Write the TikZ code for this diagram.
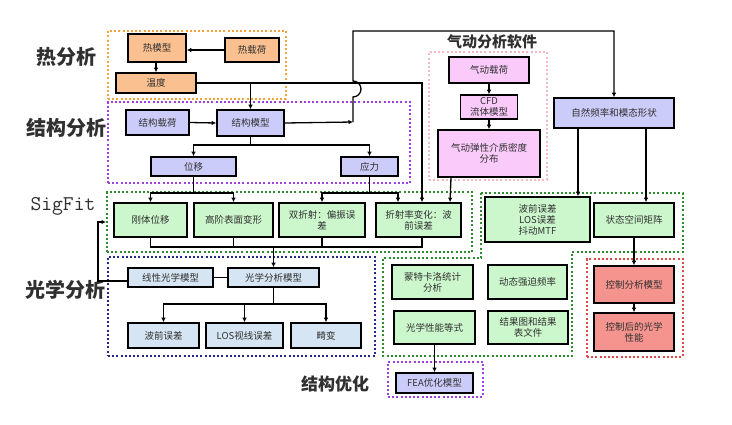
\documentclass[tikz,border=0pt]{standalone}
\usepackage{fontspec}
\setmainfont{Noto Sans CJK SC}
\usetikzlibrary{arrows.meta,calc}
\definecolor{cOrange}{HTML}{FAC08F}
\definecolor{cOrangeD}{HTML}{F2A53A}
\definecolor{cLav}{HTML}{CCCCFA}
\definecolor{cPurpleD}{HTML}{A040DC}
\definecolor{cGreen}{HTML}{CCF7CC}
\definecolor{cGreenD}{HTML}{2E8B2E}
\definecolor{cBlue}{HTML}{D6E5F3}
\definecolor{cNavyD}{HTML}{26268F}
\definecolor{cPink}{HTML}{FACBFA}
\definecolor{cPinkD}{HTML}{F2B8C4}
\definecolor{cRed}{HTML}{F5948E}
\definecolor{cRedD}{HTML}{E04848}
\definecolor{cText}{HTML}{303030}
\begin{document}
\begin{tikzpicture}[x=1pt,y=-1pt,
  box/.style={draw=black, line width=1.6pt, inner sep=1pt, align=center,
    font=\fontsize{9.5}{11}\selectfont, text=cText},
  thbox/.style={box, fill=cOrange},
  stbox/.style={box, fill=cLav},
  sgbox/.style={box, fill=cGreen},
  opbox/.style={box, fill=cBlue},
  aebox/.style={box, fill=cPink},
  ctbox/.style={box, fill=cRed},
  cont/.style={line width=2pt, dash pattern=on 2pt off 2.2pt},
  ln/.style={line width=1.3pt},
  arr/.style={line width=1.3pt, -{Latex[length=4.5pt,width=4.5pt]}},
  grp/.style={font=\fontsize{20}{22}\selectfont\bfseries, text=cText}
]
\fill[white] (0,0) rectangle (732,424);
\useasboundingbox (0,0) rectangle (732,424);

% ---------- containers ----------
\node[cont, draw=cOrangeD, minimum width=178pt, minimum height=68pt] (thermal) at (197,65) {};
\node[cont, draw=cPurpleD, minimum width=302pt, minimum height=81pt] (struct) at (259,142.5) {};
\node[cont, draw=cGreenD, minimum width=365pt, minimum height=60pt] (sigfit) at (289.5,222) {};
\node[cont, draw=cNavyD, minimum width=267pt, minimum height=99pt] (optical) at (241.5,306.5) {};
\node[cont, draw=cPinkD, minimum width=118pt, minimum height=128pt] (aero) at (488,116) {};
\node[cont, draw=cRedD, minimum width=96pt, minimum height=98pt] (ctrl) at (635,308) {};
\node[cont, draw=cPurpleD, minimum width=95pt, minimum height=35pt] (feabox) at (435.5,379.5) {};
\draw[cont, draw=cGreenD] (481,193) -- (683,193) -- (683,252) -- (572,252) -- (572,356)
  -- (383,356) -- (383,258) -- (481,258) -- cycle;

% ---------- group labels ----------
\node[grp] (lthermal) at (67,57) {热分析};
\node[grp] (lstruct) at (67,128) {结构分析};
\node[font=\fontsize{21}{22}\ttfamily, text=cText] (lsigfit) at (63,206) {SigFit};
\node[grp] (loptical) at (66,290) {光学分析};
\node[grp, font=\fontsize{15}{17}\selectfont\bfseries] (laero) at (492,42) {气动分析软件};
\node[grp, font=\fontsize{17}{19}\selectfont\bfseries] (lopt) at (335,384) {结构优化};

% ---------- thermal ----------
\node[thbox, minimum width=58pt, minimum height=28pt] (hm) at (157,48) {热模型};
\node[thbox, minimum width=54pt, minimum height=24pt] (hl) at (252,50) {热载荷};
\node[thbox, minimum width=80pt, minimum height=20pt] (wd) at (156,83) {温度};

% ---------- structural ----------
\node[stbox, minimum width=63pt, minimum height=25pt] (jzh) at (157.5,122.5) {结构载荷};
\node[stbox, minimum width=67pt, minimum height=26pt] (jm) at (250.5,123) {结构模型};
\node[stbox, minimum width=85pt, minimum height=19pt] (wy) at (193.5,166.5) {位移};
\node[stbox, minimum width=57pt, minimum height=19pt] (yl) at (369.5,166.5) {应力};

% ---------- SigFit ----------
\node[sgbox, minimum width=73pt, minimum height=34pt] (s1) at (150.5,220) {刚体位移};
\node[sgbox, minimum width=79pt, minimum height=34pt] (s2) at (233.5,220) {高阶表面变形};
\node[sgbox, minimum width=86pt, minimum height=34pt] (s3) at (322,220) {双折射：偏振误\\差};
\node[sgbox, minimum width=85pt, minimum height=34pt] (s4) at (418.5,220) {折射率变化：波\\前误差};

% ---------- optical ----------
\node[opbox, minimum width=85pt, minimum height=19pt] (o1) at (170.5,277.5) {线性光学模型};
\node[opbox, minimum width=91pt, minimum height=19pt] (o2) at (273.5,277.5) {光学分析模型};
\node[opbox, minimum width=71pt, minimum height=25pt] (o3) at (163.5,335.5) {波前误差};
\node[opbox, minimum width=77pt, minimum height=25pt] (o4) at (244.5,335.5) {LOS视线误差};
\node[opbox, minimum width=70pt, minimum height=25pt] (o5) at (326,335.5) {畸变};

% ---------- aero ----------
\node[aebox, minimum width=80pt, minimum height=26pt] (a1) at (489,70) {气动载荷};
\node[aebox, minimum width=57pt, minimum height=24pt] (a2) at (489,107) {CFD\\流体模型};
\node[aebox, minimum width=102pt, minimum height=47pt] (a3) at (489,153.5) {气动弹性介质密度\\分布};

% ---------- modal / control ----------
\node[stbox, minimum width=120pt, minimum height=30pt] (nf) at (614,113) {自然频率和模态形状};
\node[sgbox, minimum width=105pt, minimum height=45pt] (g1) at (537.5,219.5) {波前误差\\LOS误差\\抖动MTF};
\node[sgbox, minimum width=80pt, minimum height=34pt] (g2) at (634,220) {状态空间矩阵};
\node[ctbox, minimum width=80pt, minimum height=37pt] (c1) at (634,284.5) {控制分析模型};
\node[ctbox, minimum width=80pt, minimum height=38pt] (c2) at (634,332) {控制后的光学\\性能};

% ---------- statistics / results ----------
\node[sgbox, minimum width=81pt, minimum height=34pt] (m1) at (432.5,282) {蒙特卡洛统计\\分析};
\node[sgbox, minimum width=79pt, minimum height=34pt] (m2) at (527.5,282) {动态强迫频率};
\node[sgbox, minimum width=81pt, minimum height=33pt] (m3) at (434.5,327.5) {光学性能等式};
\node[sgbox, minimum width=80pt, minimum height=33pt] (m4) at (528,327.5) {结果图和结果\\表文件};
\node[stbox, minimum width=77pt, minimum height=20pt] (fea) at (434.5,383) {FEA优化模型};

% ---------- connectors ----------
\coordinate (jct) at (353,122);
\draw[arr] (hl.west) -- (hl.west -| hm.east);
\draw[arr] (hm.south -| wd.north) -- (wd.north);
\draw[arr] (wd.east) -| (jm.north);
\draw[arr] (wd.east) -- (422,83) -- ([xshift=3.5pt]s4.north);
\draw[arr] (jm.east) -- (jct);
\draw[arr] (jct) -- (353,97) arc[start angle=-90, end angle=90, radius=8pt]
  -- (353,31) -| (nf.north);
\draw[arr] (jzh.east) -- (jm.west);
\draw[arr] (jm.south) -- (250.5,145) -| (wy.north);
\draw[arr] (jm.south) -- (250.5,145) -| (yl.north);
\draw[arr] (wy.south) -- (193.5,193) -| (s1.north);
\draw[arr] (wy.south) -- (193.5,193) -| (s2.north);
\draw[arr] (yl.south) -- (369.5,193) -| (s3.north);
\draw[arr] (yl.south) -- (369.5,193) -| ([xshift=-20.5pt]s4.north);
\draw[arr] ([xshift=-38pt]a3.south) -- ([xshift=31.5pt]s4.north);
\draw[arr] (a1.south) -- (a2.north);
\draw[arr] (a2.south) -- (a3.north);
% SigFit bus to optical
\coordinate (sbus) at (273.5,247);
\draw[ln] (s1.south) |- ([xshift=3.5pt]s4.south |- sbus) -- ([xshift=3.5pt]s4.south);
\draw[ln] (s2.south) -- (s2.south |- sbus);
\draw[ln] (s3.south) -- (s3.south |- sbus);
\draw[arr] (sbus) -- (o2.north);
\draw[ln] (o1.east) -- (o2.west);
\draw[arr] ([yshift=-3.5pt]o1.west) -- (98,281) |- (sigfit.west);
\draw[arr] (o2.south) -- (273.5,304) -| (o3.north);
\draw[arr] (o2.south) -- (273.5,304) -| (o4.north);
\draw[arr] (o2.south) -- (273.5,304) -| (o5.north);
% modal
\draw[arr] ([xshift=-36pt]nf.south) -- ([xshift=-36pt]nf.south |- g1.north);
\draw[arr] ([xshift=32pt]nf.south) -- ([xshift=32pt]nf.south |- g2.north);
\draw[arr] (g2.south) -- (c1.north);
\draw[arr] (c1.south) -- (c2.north);
\draw[arr] (m3.south) -- (fea.north);
\end{tikzpicture}
\end{document}
